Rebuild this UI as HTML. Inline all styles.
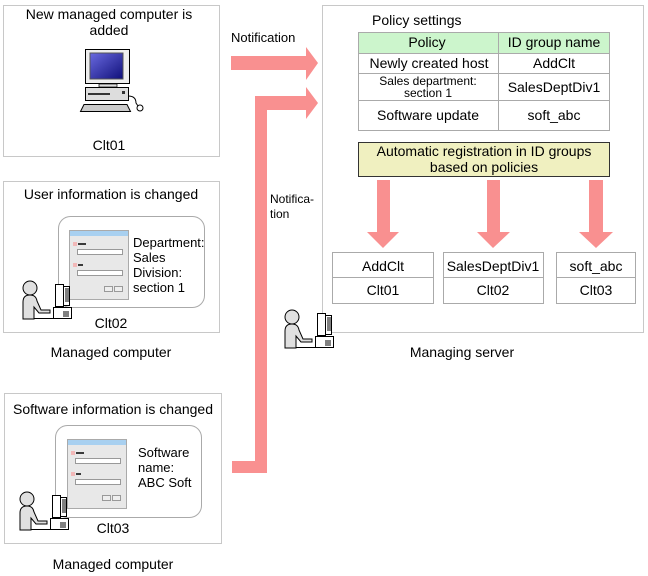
<!DOCTYPE html>
<html><head><meta charset="utf-8"><style>
html,body{margin:0;padding:0;background:#fff}
svg{display:block}
text{font-family:"Liberation Sans",Arial,sans-serif;fill:#000}
</style></head><body>
<svg width="648" height="576" viewBox="0 0 648 576" xmlns="http://www.w3.org/2000/svg">
<defs>
<linearGradient id="scr" x1="0" y1="0" x2="1" y2="1"><stop offset="0" stop-color="#6a6ae0"/><stop offset="1" stop-color="#10107a"/></linearGradient>
<g id="person">
<circle cx="10" cy="9" r="7" fill="#e0e0e0" stroke="#000" stroke-width="1"/>
<path d="M3 40 L3 23 Q3 16 10 16 Q16 16 17 22 L21 31 L30 31 L30 34 L19 34 L14 28 L14 40 Z" fill="#e0e0e0" stroke="#000" stroke-width="1"/>
<line x1="14" y1="39.5" x2="40" y2="39.5" stroke="#000"/>
<rect x="35.5" y="5.5" width="8" height="22" fill="#fff" stroke="#000"/>
<rect x="43.5" y="7.5" width="6" height="19" fill="#fff" stroke="#000"/>
<path d="M45 10h4M45 12h4M45 14h4M45 16h4M45 18h4M45 20h4M45 22h4" stroke="#000" stroke-width="1"/>
<rect x="33.5" y="28.5" width="18" height="11" fill="#fff" stroke="#000"/>
<path d="M44 32v6M46 32v6M48 32v6" stroke="#000"/>
</g>
<g id="win">
<rect x="0.5" y="0.5" width="59" height="69" fill="#e8e8e8" stroke="#aaa"/>
<rect x="1" y="1" width="58" height="5" fill="#a8d0f0"/>
<rect x="4" y="12" width="4" height="4" fill="#f2b8b8"/>
<line x1="9" y1="14" x2="17" y2="14" stroke="#000" stroke-width="1.5"/>
<rect x="8.5" y="19.5" width="45" height="5" fill="#fff" stroke="#999"/>
<rect x="4" y="33" width="4" height="4" fill="#f2b8b8"/>
<line x1="9" y1="35" x2="14" y2="35" stroke="#000" stroke-width="1.5"/>
<rect x="8.5" y="40.5" width="45" height="5" fill="#fff" stroke="#999"/>
<rect x="35.5" y="56.5" width="8" height="5" fill="#eee" stroke="#999"/>
<rect x="45.5" y="56.5" width="8" height="5" fill="#eee" stroke="#999"/>
</g>
</defs>

<rect x="3.5" y="5.5" width="216" height="151" fill="#fff" stroke="#c8c8c8"/>
<rect x="3.5" y="181.5" width="216" height="151" fill="#fff" stroke="#c8c8c8"/>
<rect x="4.5" y="393.5" width="217" height="150" fill="#fff" stroke="#c8c8c8"/>
<rect x="322.5" y="5.5" width="321" height="327" fill="#fff" stroke="#c8c8c8"/>

<text x="109" y="19" font-size="14" text-anchor="middle">New managed computer is</text>
<text x="109" y="35" font-size="14" text-anchor="middle">added</text>
<rect x="85.5" y="49.5" width="44" height="34" fill="#eee" stroke="#000"/>
<rect x="90" y="53" width="33" height="26" fill="url(#scr)" stroke="#555"/>
<rect x="99" y="84" width="18" height="3" fill="#ddd" stroke="#000" stroke-width="0.7"/>
<rect x="85.5" y="87.5" width="43" height="13" fill="#ddd" stroke="#000"/>
<rect x="88" y="93" width="22" height="2" fill="#333"/>
<rect x="122" y="91" width="3" height="3" fill="#333"/>
<path d="M80.5 111.5 L84 104.5 L127 104.5 L130.5 111.5 Z" fill="#ccc" stroke="#000"/>
<path d="M128 96 Q136 96 136 103 L138 106" fill="none" stroke="#000"/>
<circle cx="140" cy="108" r="3" fill="#fff" stroke="#000"/>
<text x="109" y="150" font-size="14" text-anchor="middle">Clt01</text>

<text x="111" y="199" font-size="14" text-anchor="middle">User information is changed</text>
<rect x="58.5" y="216.5" width="146" height="91" rx="12" fill="#fff" stroke="#aaa"/>
<use href="#win" x="69" y="230"/>
<text font-size="13"><tspan x="133" y="247">Department:</tspan><tspan x="133" y="262">Sales</tspan><tspan x="133" y="277">Division:</tspan><tspan x="133" y="292">section 1</tspan></text>
<use href="#person" x="20" y="279"/>
<text x="111" y="328" font-size="14" text-anchor="middle">Clt02</text>
<text x="111" y="357" font-size="14" text-anchor="middle">Managed computer</text>

<text x="113" y="414" font-size="14" text-anchor="middle">Software information is changed</text>
<rect x="55.5" y="425.5" width="146" height="92" rx="12" fill="#fff" stroke="#aaa"/>
<use href="#win" x="67" y="439"/>
<text font-size="13"><tspan x="138" y="457">Software</tspan><tspan x="138" y="472">name:</tspan><tspan x="138" y="487">ABC Soft</tspan></text>
<use href="#person" x="17" y="490"/>
<text x="113" y="533" font-size="14" text-anchor="middle">Clt03</text>
<text x="113" y="569" font-size="14" text-anchor="middle">Managed computer</text>

<text x="231" y="42" font-size="13">Notification</text>
<path d="M231 56 L306 56 L306 47 L318 63 L306 80 L306 70 L231 70 Z" fill="#f99090"/>
<path d="M232 461 L255 461 L255 96 L306 96 L306 87 L318 103 L306 119 L306 110 L267 110 L267 473 L232 473 Z" fill="#f99090"/>
<text font-size="12"><tspan x="270" y="203">Notifica-</tspan><tspan x="270" y="218">tion</tspan></text>

<text x="372" y="25" font-size="14">Policy settings</text>
<rect x="358" y="32" width="252" height="21" fill="#ccf5cc"/>
<g stroke="#aaa" fill="none">
<rect x="358.5" y="32.5" width="251" height="98"/>
<line x1="498.5" y1="32" x2="498.5" y2="131"/>
<line x1="358" y1="53.5" x2="610" y2="53.5"/>
<line x1="358" y1="73.5" x2="610" y2="73.5"/>
<line x1="358" y1="100.5" x2="610" y2="100.5"/>
</g>
<text x="427" y="47" font-size="14" text-anchor="middle">Policy</text>
<text x="554" y="47" font-size="14" text-anchor="middle">ID group name</text>
<text x="429" y="68" font-size="14" text-anchor="middle">Newly created host</text>
<text x="554" y="68" font-size="14" text-anchor="middle">AddClt</text>
<text x="428" y="85" font-size="12" text-anchor="middle">Sales department:</text>
<text x="428" y="97" font-size="12" text-anchor="middle">section 1</text>
<text x="554" y="92" font-size="14" text-anchor="middle">SalesDeptDiv1</text>
<text x="428" y="120" font-size="14" text-anchor="middle">Software update</text>
<text x="554" y="120" font-size="14" text-anchor="middle">soft_abc</text>

<rect x="358.5" y="142.5" width="251" height="34" fill="#f0f0c0" stroke="#333"/>
<text x="484" y="156" font-size="14" text-anchor="middle">Automatic registration in ID groups</text>
<text x="484" y="172" font-size="14" text-anchor="middle">based on policies</text>

<path d="M377 180 L390 180 L390 232 L399 232 L383 248 L367 232 L377 232 Z" fill="#f99090"/>
<path d="M487 180 L500 180 L500 232 L510 232 L493 248 L477 232 L487 232 Z" fill="#f99090"/>
<path d="M589 180 L603 180 L603 232 L613 232 L596 248 L579 232 L589 232 Z" fill="#f99090"/>

<g stroke="#aaa" fill="#fff">
<rect x="332.5" y="252.5" width="101" height="51"/>
<rect x="443.5" y="252.5" width="100" height="51"/>
<rect x="556.5" y="252.5" width="79" height="51"/>
</g>
<g stroke="#aaa"><line x1="332" y1="277.5" x2="434" y2="277.5"/><line x1="443" y1="277.5" x2="544" y2="277.5"/><line x1="556" y1="277.5" x2="636" y2="277.5"/></g>
<g font-size="14" text-anchor="middle">
<text x="383" y="271">AddClt</text><text x="383" y="295">Clt01</text>
<text x="493" y="271">SalesDeptDiv1</text><text x="493" y="295">Clt02</text>
<text x="596" y="271">soft_abc</text><text x="596" y="295">Clt03</text>
</g>
<use href="#person" x="282" y="308"/>
<text x="462" y="357" font-size="14" text-anchor="middle">Managing server</text>
</svg>
</body></html>
